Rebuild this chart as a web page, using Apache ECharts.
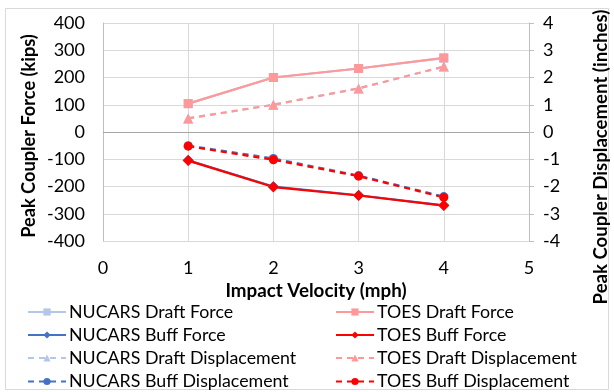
<!DOCTYPE html>
<html><head><meta charset="utf-8">
<script src="https://cdn.jsdelivr.net/npm/echarts@6/dist/echarts.min.js"></script>
<style>html,body{margin:0;padding:0;background:#fff}#c{width:614px;height:392px}</style>
</head><body><div id="c"></div>
<script>
const velocity = [1, 2, 3, 4];
const nucarsDraftForce = [104, 200, 233, 271];
const nucarsBuffForce = [-104, -200, -232, -269];
const nucarsDraftDisp = [0.5, 1.0, 1.6, 2.4];
const nucarsBuffDisp = [-0.5, -0.97, -1.6, -2.37];
const toesDraftForce = [104, 200, 233, 272];
const toesBuffForce = [-105, -202, -233, -270];
const toesDraftDisp = [0.5, 1.0, 1.6, 2.4];
const toesBuffDisp = [-0.52, -1.02, -1.62, -2.4];
const forceTicks = [-400, 400, 100];
const dispTicks = [-4, 4, 1];
const xTicks = [0, 5, 1];

const font = 'Lato, "Open Sans", sans-serif';
const pair = (xs, ys) => xs.map((x, i) => [x, ys[i]]);

function ser(name, data, yIdx, color, symbol, dashed, size) {
  return {
    name, type: 'line', data, yAxisIndex: yIdx, color,
    symbol, symbolSize: size, showSymbol: true,
    lineStyle: {width: 2.2, color, type: dashed ? [6, 5] : 'solid'},
    itemStyle: {color},
    emphasis: {disabled: true}, animation: false, z: 3
  };
}
const lb = '#B4C7E7', db = '#4472C4', lr = '#FF9999', dr = '#FF0000';
const series = [
  ser('NUCARS Draft Force', pair(velocity, nucarsDraftForce), 0, lb, 'rect', false, 9),
  ser('NUCARS Buff Force', pair(velocity, nucarsBuffForce), 0, db, 'diamond', false, 11),
  ser('NUCARS Draft Displacement', pair(velocity, nucarsDraftDisp), 1, lb, 'triangle', true, 10),
  ser('NUCARS Buff Displacement', pair(velocity, nucarsBuffDisp), 1, db, 'circle', true, 9),
  ser('TOES Draft Force', pair(velocity, toesDraftForce), 0, lr, 'rect', false, 9),
  ser('TOES Buff Force', pair(velocity, toesBuffForce), 0, dr, 'diamond', false, 11),
  ser('TOES Draft Displacement', pair(velocity, toesDraftDisp), 1, lr, 'triangle', true, 10),
  ser('TOES Buff Displacement', pair(velocity, toesBuffDisp), 1, dr, 'circle', true, 9)
];
series[0].markLine = {silent: true, symbol: 'none', label: {show: false}, animation: false,
  lineStyle: {color: '#A6A6A6', width: 1, type: 'solid'}, data: [{yAxis: 0}]};

const rowY = [312, 335, 358, 381.5];
const legends = series.map((s, i) => ({
  data: [s.name], left: i < 4 ? 27 : 335, top: rowY[i % 4] - 9, padding: 0,
  itemWidth: 38, itemHeight: 9, selectedMode: false,
  textStyle: {fontFamily: font, fontSize: 17.8, lineHeight: 18, color: '#000', padding: [0, 0, 0, -2]}
}));

const titleStyle = {fontFamily: font, fontSize: 18.2, fontWeight: 'bold', fill: '#000', align: 'center', verticalAlign: 'middle'};
const chart = echarts.init(document.getElementById('c'), null, {renderer: 'canvas'});
chart.setOption({
  animation: false,
  grid: {left: 103, right: 85, top: 23, bottom: 151},
  graphic: [
    {type: 'rect', shape: {x: 5.5, y: 8.5, width: 603, height: 381}, style: {fill: 'none', stroke: '#D9D9D9', lineWidth: 1}, silent: true},
    {type: 'text', x: 29, y: 136, rotation: Math.PI / 2, style: Object.assign({text: 'Peak Coupler Force (kips)'}, titleStyle), silent: true},
    {type: 'text', x: 601, y: 157, rotation: Math.PI / 2, style: Object.assign({text: 'Peak Coupler Displacement (inches)'}, titleStyle, {fontSize: 18.6}), silent: true}
  ],
  legend: legends,
  xAxis: {
    type: 'value', min: xTicks[0], max: xTicks[1], interval: xTicks[2],
    name: 'Impact Velocity (mph)', nameLocation: 'middle', nameGap: 40,
    nameTextStyle: {fontFamily: font, fontSize: 18.8, fontWeight: 'bold', color: '#000'},
    axisLine: {show: false}, axisTick: {show: false},
    axisLabel: {fontFamily: font, fontSize: 18, color: '#000', margin: 18},
    splitLine: {show: true, lineStyle: {color: '#D9D9D9', width: 1}}
  },
  yAxis: [{
    type: 'value', min: forceTicks[0], max: forceTicks[1], interval: forceTicks[2],
    axisLine: {show: true, lineStyle: {color: '#BFBFBF'}}, axisTick: {show: false},
    axisLabel: {fontFamily: font, fontSize: 18, color: '#000', margin: 18},
    splitLine: {show: true, lineStyle: {color: '#D9D9D9', width: 1}}
  }, {
    type: 'value', min: dispTicks[0], max: dispTicks[1], interval: dispTicks[2], position: 'right',
    axisLine: {show: true, lineStyle: {color: '#BFBFBF'}},
    axisTick: {show: true, length: 5, lineStyle: {color: '#BFBFBF'}},
    axisLabel: {fontFamily: font, fontSize: 18, color: '#000', margin: 14},
    splitLine: {show: false}
  }],
  series
});
</script></body></html>
